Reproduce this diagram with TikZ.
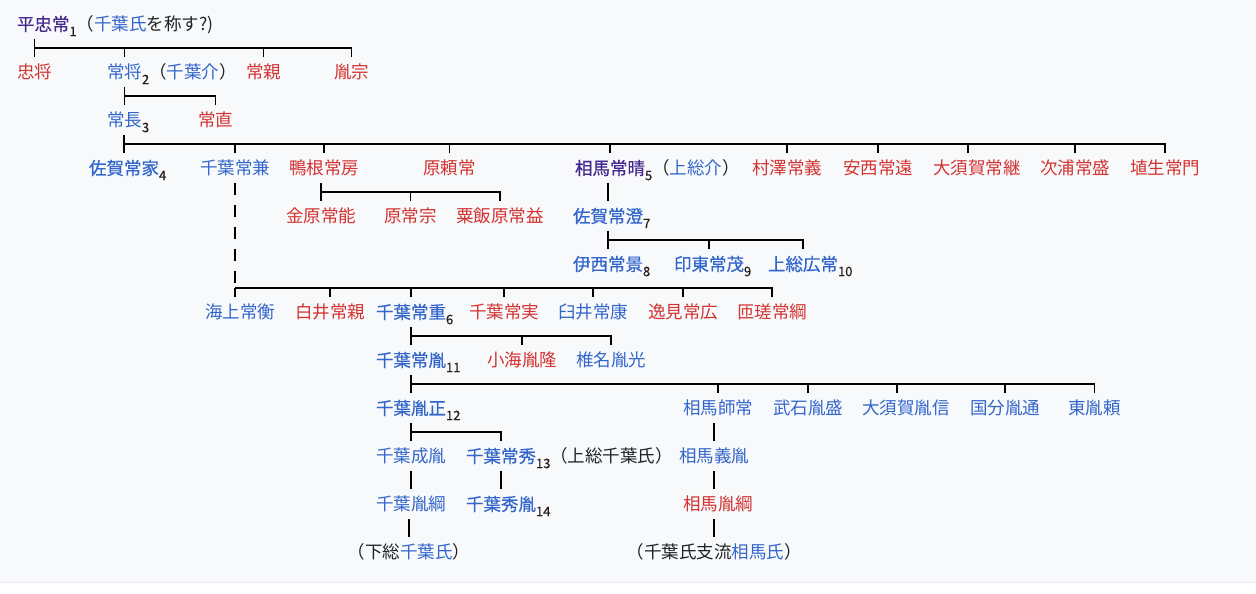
\documentclass[tikz,border=0pt]{standalone}
\usepackage{fontspec}
\setmainfont{Noto Sans CJK JP}
\newfontfamily\semibold{Noto Sans CJK JP}[FakeBold=0.6]
\usepackage{tikz}
\usetikzlibrary{calc}
\definecolor{nblue}{HTML}{3366CC}
\definecolor{nred}{HTML}{D33333}
\definecolor{nvis}{HTML}{45288F}
\definecolor{ink}{HTML}{202122}
\definecolor{subc}{HTML}{2B1B1B}
\definecolor{pagebg}{HTML}{F8F9FA}
\definecolor{rulec}{HTML}{EAECF0}
\newcommand{\subn}[1]{\raisebox{-5.5pt}{\fontsize{13}{13}\semibold\color{subc}#1}}
\newcommand{\bk}[1]{\textcolor{ink}{#1}}
\tikzstyle{every node}=[inner sep=0pt, outer xsep=0pt, outer ysep=6.5pt, text height=15.4pt, text depth=2.1pt, font=\fontsize{17.5}{17.5}\selectfont, anchor=west]
\tikzset{redname/.style={text=nred}}
\tikzset{bluename/.style={text=nblue}}
\tikzset{visname/.style={text=nvis}}
\tikzset{main/.style={font=\fontsize{17.5}{17.5}\semibold}}
\tikzset{sfx/.style={anchor=base west, outer ysep=0pt, text=nblue}}
\tikzset{brokenline/.style={dash pattern=on 12pt off 10pt}}

\begin{document}
\begin{tikzpicture}[x=1pt,y=-1pt,line width=1.5pt]
		\useasboundingbox (0,0) rectangle (1256,594);
		\fill[white] (0,0) rectangle (1256,594);
		\fill[pagebg] (0,0) rectangle (1256,582);
		\draw[rulec,line width=1pt] (0,582.5) -- (1256,582.5);
		% generation rows
		\node[visname,main] (tadatsune) at (17,24) {平忠常};
		\node[sfx] (tadatsune-s) at (tadatsune.base east) {\subn{1}\bk{（}千葉氏\bk{を称す?)}};
		\node[redname] (tadamasa) at (17,72) {忠将};
		\node[bluename] (tsunemasa) at (107,72) {常将};
		\node[sfx] (tsunemasa-s) at (tsunemasa.base east) {\subn{2}\bk{（}千葉介\bk{）}};
		\node[redname] (tsunechika) at (246,72) {常親};
		\node[redname] (tanemune) at (334,72) {胤宗};
		\node[bluename] (tsunenaga) at (107,120) {常長};
		\node[sfx] (tsunenaga-s) at (tsunenaga.base east) {\subn{3}};
		\node[redname] (tsunenao) at (198,120) {常直};
		\node[bluename,main] (sagatsuneie) at (89,168) {佐賀常家};
		\node[sfx] (sagatsuneie-s) at (sagatsuneie.base east) {\subn{4}};
		\node[bluename] (chibatsunekane) at (200,168) {千葉常兼};
		\node[redname] (kamonetsunefusa) at (289,168) {鴨根常房};
		\node[redname] (harayoritsune) at (423,168) {原頼常};
		\node[visname,main] (soumatsuneharu) at (575,168) {相馬常晴};
		\node[sfx] (soumatsuneharu-s) at (soumatsuneharu.base east) {\subn{5}\bk{（}上総介\bk{）}};
		\node[redname] (murasawa) at (752,168) {村澤常義};
		\node[redname] (anzai) at (843,168) {安西常遠};
		\node[redname] (oosugatsunetsugu) at (933,168) {大須賀常継};
		\node[redname] (namiura) at (1040,168) {次浦常盛};
		\node[redname] (hanyuu) at (1130,168) {埴生常門};
		\node[redname] (kanehara) at (286,216) {金原常能};
		\node[redname] (haratsunemune) at (384,216) {原常宗};
		\node[redname] (aibara) at (456,216) {粟飯原常益};
		\node[bluename,main] (sagatsunezumi) at (573,216) {佐賀常澄};
		\node[sfx] (sagatsunezumi-s) at (sagatsunezumi.base east) {\subn{7}};
		\node[bluename,main] (isai) at (573,264) {伊西常景};
		\node[sfx] (isai-s) at (isai.base east) {\subn{8}};
		\node[bluename,main] (intou) at (674,264) {印東常茂};
		\node[sfx] (intou-s) at (intou.base east) {\subn{9}};
		\node[bluename,main] (hirotsune) at (768,264) {上総広常};
		\node[sfx] (hirotsune-s) at (hirotsune.base east) {\subn{10}};
		\node[bluename] (unakami) at (205,312) {海上常衡};
		\node[redname] (shirai) at (295,312) {白井常親};
		\node[bluename,main] (tsuneshige) at (376,312) {千葉常重};
		\node[sfx] (tsuneshige-s) at (tsuneshige.base east) {\subn{6}};
		\node[redname] (tsunezane) at (469,312) {千葉常実};
		\node[bluename] (usui) at (558,312) {臼井常康};
		\node[redname] (henmi) at (648,312) {逸見常広};
		\node[redname] (sosa) at (737,312) {匝瑳常綱};
		\node[bluename,main] (tsunetane) at (376,360) {千葉常胤};
		\node[sfx] (tsunetane-s) at (tsunetane.base east) {\subn{11}};
		\node[redname] (oumi) at (487,360) {小海胤隆};
		\node[bluename] (shiina) at (576,360) {椎名胤光};
		\node[bluename,main] (tanemasa) at (376,408) {千葉胤正};
		\node[sfx] (tanemasa-s) at (tanemasa.base east) {\subn{12}};
		\node[bluename] (morotsune) at (683,408) {相馬師常};
		\node[bluename] (takeishi) at (773,408) {武石胤盛};
		\node[bluename] (oosugatanenobu) at (862,408) {大須賀胤信};
		\node[bluename] (kokubun) at (970,408) {国分胤通};
		\node[bluename] (tounotaneyori) at (1068,408) {東胤頼};
		\node[bluename] (narutane) at (376,456) {千葉成胤};
		\node[bluename,main] (tsunehide) at (466,456) {千葉常秀};
		\node[sfx,text=ink] (tsunehide-s) at (tsunehide.base east) {\subn{13}（上総千葉氏）};
		\node[bluename] (yoshitane) at (679,456) {相馬義胤};
		\node[bluename] (tanetsuna) at (376,504) {千葉胤綱};
		\node[bluename,main] (hidetane) at (466,504) {千葉秀胤};
		\node[sfx] (hidetane-s) at (hidetane.base east) {\subn{14}};
		\node[redname] (soumatanetsuna) at (683,504) {相馬胤綱};
		\node[bluename,anchor=center] (shimousa) at (409,552) {\bk{（下総}千葉氏\bk{）}};
		\node[bluename,anchor=center] (soumashi) at (714,552) {\bk{（千葉氏支流}相馬氏\bk{）}};
		% brackets
		\coordinate (b1) at ($(tadatsune.south)!.5!(tadamasa.north)$);
		\draw (tadamasa |- tadatsune.south) -- (tadamasa.north);
		\draw (tadamasa |- b1) -| (tanemune.north);
		\foreach \c in {tsunemasa,tsunechika} \draw (\c |- b1) -- (\c.north);
		\coordinate (b2) at ($(tsunemasa.south)!.5!(tsunenaga.north)$);
		\draw (tsunenaga |- tsunemasa.south) -- (tsunenaga.north);
		\draw (tsunenaga |- b2) -| (tsunenao.north);
		\coordinate (b3) at ($(tsunenaga.south)!.5!(sagatsuneie.north)$);
		\draw (sagatsuneie |- tsunenaga.south) -- (sagatsuneie.north);
		\draw (sagatsuneie |- b3) -| (hanyuu.north);
		\foreach \c in {chibatsunekane,kamonetsunefusa,harayoritsune,soumatsuneharu,murasawa,anzai,namiura} \draw (\c |- b3) -- (\c.north);
		\coordinate (oosuga-top) at ($(oosugatsunetsugu.north west)!.4!(oosugatsunetsugu.north east)$);
		\draw (oosuga-top |- b3) -- (oosuga-top);
		\coordinate (b4) at ($(kamonetsunefusa.south)!.5!(kanehara.north)$);
		\draw (kanehara |- kamonetsunefusa.south) -- (kanehara.north);
		\draw (kanehara |- b4) -| (aibara.north);
		\draw (haratsunemune |- b4) -- (haratsunemune.north);
		\draw (sagatsunezumi |- soumatsuneharu.south) -- (sagatsunezumi.north);
		\coordinate (b5) at ($(sagatsunezumi.south)!.5!(isai.north)$);
		\draw (isai |- sagatsunezumi.south) -- (isai.north);
		\draw (isai |- b5) -| (hirotsune.north);
		\draw (intou |- b5) -- (intou.north);
		\coordinate (b6) at ($(isai.south)!.5!(unakami.north)$);
		\draw[brokenline] (chibatsunekane.south) -- (chibatsunekane |- b6);
		\draw (chibatsunekane |- b6) -- (chibatsunekane |- unakami.north);
		\draw (chibatsunekane |- b6) -| (sosa.north);
		\foreach \c in {shirai,tsuneshige,tsunezane,usui,henmi} \draw (\c |- b6) -- (\c.north);
		\coordinate (b7) at ($(tsuneshige.south)!.5!(tsunetane.north)$);
		\draw (tsunetane |- tsuneshige.south) -- (tsunetane.north);
		\draw (tsunetane |- b7) -| (shiina.north);
		\draw (oumi |- b7) -- (oumi.north);
		\coordinate (b8) at ($(tsunetane.south)!.5!(tanemasa.north)$);
		\draw (tanemasa |- tsunetane.south) -- (tanemasa.north);
		\draw (tanemasa |- b8) -| (tounotaneyori.north);
		\foreach \c in {morotsune,takeishi,kokubun} \draw (\c |- b8) -- (\c.north);
		\coordinate (oosugb-top) at ($(oosugatanenobu.north west)!.4!(oosugatanenobu.north east)$);
		\draw (oosugb-top |- b8) -- (oosugb-top);
		\coordinate (b9) at ($(tanemasa.south)!.5!(narutane.north)$);
		\draw (narutane |- tanemasa.south) -- (narutane.north);
		\draw (narutane |- b9) -| (tsunehide.north);
		\draw (yoshitane |- morotsune.south) -- (yoshitane.north);
		\draw (tanetsuna |- narutane.south) -- (tanetsuna.north);
		\draw (hidetane |- tsunehide.south) -- (hidetane.north);
		\draw (yoshitane.south) -- (yoshitane |- soumatanetsuna.north);
		\draw (shimousa |- tanetsuna.south) -- (shimousa.north);
		\draw (soumashi |- soumatanetsuna.south) -- (soumashi.north);
\end{tikzpicture}
\end{document}
